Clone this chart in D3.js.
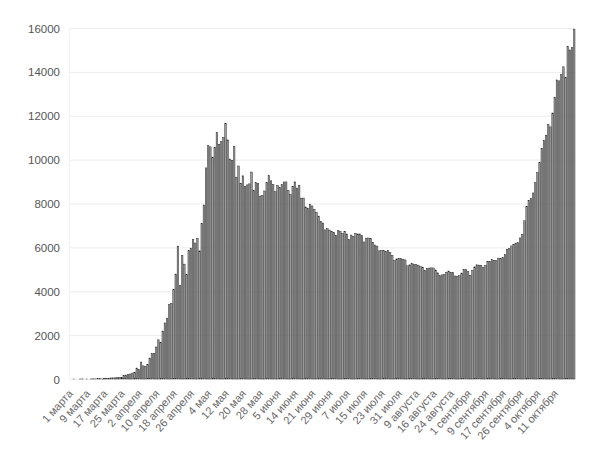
<!DOCTYPE html>
<html><head><meta charset="utf-8">
<script src="https://cdn.jsdelivr.net/npm/d3@7"></script>
<style>body{margin:0;background:#fff}svg{display:block}</style>
</head><body>
<svg id="c" width="591" height="449"></svg>
<script>
const march = [0,1,0,0,1,6,0,3,0,3,8,6,14,14,4,30,21,33,52,54,53,61,71,57,163,182,196,228,270,302,500];
const april = [440,771,601,582,658,954,1154,1175,1459,1786,1667,2186,2558,2774,3388,3448,4070,4785,6060,4268,5642,5236,4774,5849,5966,6361,6198,6411,5841,7099];
const may = [7933,9623,10633,10581,10102,10559,11231,10699,10817,11012,11656,10899,10028,9974,10598,9200,9709,8926,9263,8764,8849,8894,9434,8599,8946,8915,8338,8371,8572,8952,9268];
const june = [9035,8863,8536,8831,8726,8855,8984,8985,8595,8404,8779,8987,8706,8835,8246,8248,7843,7790,7972,7889,7728,7600,7425,7176,7113,6800,6852,6791,6719,6693];
const july = [6556,6760,6718,6632,6736,6611,6368,6562,6509,6635,6611,6615,6537,6248,6422,6428,6406,6234,6109,6061,5842,5862,5848,5811,5871,5765,5635,5395,5475,5509,5482];
const august = [5462,5427,5159,5204,5267,5241,5212,5189,5118,5102,4945,5040,5057,5065,5061,4969,4839,4718,4748,4767,4870,4921,4852,4852,4696,4676,4711,4829,4980,4993,4897];
const september = [4729,4952,5110,5205,5195,5185,5099,5185,5363,5363,5449,5406,5394,5509,5488,5529,5670,5905,5944,6065,6148,6196,6215,6431,6595,7212,7867,8135,8232,8481];
const october = [8945,9412,9859,10499,10888,11115,11615,11493,12126,12846,13634,13592,13868,14231,13754,15150,15000,15100,15950];

const tickLabels = ["1 марта","9 марта","17 марта","25 марта","2 апреля","10 апреля","18 апреля","26 апреля","4 мая","12 мая","20 мая","28 мая","5 июня","14 июня","21 июня","29 июня","7 июля","15 июля","23 июля","31 июля","9 августа","16 августа","24 августа","1 сентября","9 сентября","17 сентября","26 сентября","4 октября","11 октября"];
const yTicks = [0,2000,4000,6000,8000,10000,12000,14000,16000];

const values = [].concat(march, april, may, june, july, august, september, october);
const tickEvery = 8;

const svg = d3.select("#c");
const mLeft = 71, mRight = 575, mTop = 28, mBottom = 379;

const x = d3.scaleBand().domain(d3.range(values.length)).range([mLeft, mRight]).paddingInner(0.3).paddingOuter(0);
const y = d3.scaleLinear().domain([0, 16000]).range([mBottom, mTop]);

// grid
svg.append("g").selectAll("line").data(yTicks).join("line")
  .attr("x1", mLeft - 1).attr("x2", mRight)
  .attr("y1", d => y(d) + 0.5).attr("y2", d => y(d) + 0.5)
  .attr("stroke", "#ececec").attr("stroke-width", 1);
svg.append("line").attr("x1", mLeft - 1.5).attr("x2", mLeft - 1.5).attr("y1", mTop).attr("y2", mBottom)
  .attr("stroke", "#f2f2f2");

// bars
svg.append("g").selectAll("rect").data(values).join("rect")
  .attr("x", (d, i) => x(i))
  .attr("width", x.bandwidth())
  .attr("y", d => y(d))
  .attr("height", d => mBottom - y(d))
  .attr("fill", "#999")
  .attr("stroke", "#222")
  .attr("stroke-width", 0.45);

// y axis
const yAxis = d3.axisLeft(y).tickValues(yTicks).tickSize(0).tickPadding(0).tickFormat(d3.format("d"));
const yg = svg.append("g").attr("transform", `translate(${mLeft - 11},0)`).call(yAxis);
yg.select(".domain").remove();
yg.selectAll("text").attr("font-family", "Liberation Sans, Arial, sans-serif").attr("font-size", 11.5).attr("fill", "#555").attr("dy", "0.35em");

// x axis
const tickIdx = tickLabels.map((t, k) => k * tickEvery);
const xAxis = d3.axisBottom(x).tickValues(tickIdx).tickSize(0).tickFormat(i => tickLabels[i / tickEvery]);
const xg = svg.append("g").attr("transform", `translate(0,${mBottom + 12})`).call(xAxis);
xg.select(".domain").remove();
xg.selectAll("text")
  .attr("font-family", "Liberation Sans, Arial, sans-serif").attr("font-size", 11).attr("fill", "#666")
  .attr("text-anchor", "end")
  .attr("transform", "rotate(-48)")
  .attr("x", 0).attr("y", 0)
  .attr("dx", "-0.1em").attr("dy", "0.3em");
</script>
</body></html>
